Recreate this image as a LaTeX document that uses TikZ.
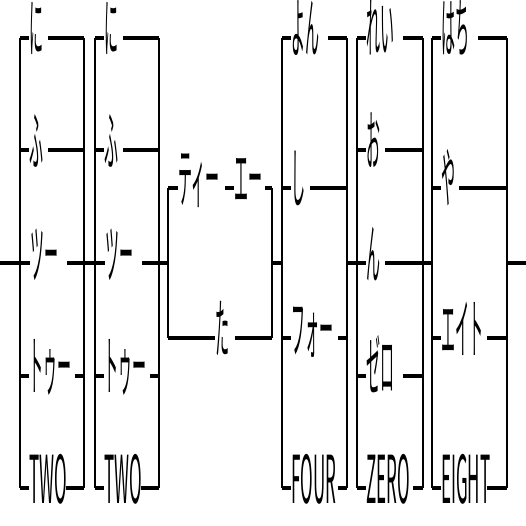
\documentclass[tikz,border=0pt]{standalone}
\usepackage{fontspec}
\usepackage{graphicx}
\newfontfamily\jpfont{Noto Sans CJK JP}
\newcommand\jt[1]{\scalebox{0.7}[3.3]{\jpfont\fontsize{20}{20}\selectfont #1}}
\newcommand\lt[1]{\scalebox{0.85}[3.3]{\jpfont\fontsize{20}{20}\selectfont #1}}
\tikzset{
  hline/.style={line width=4pt},
  vline/.style={line width=1.1pt},
  lbl/.style={inner sep=0pt, anchor=base west}
}
\newcommand\branch[7]{%
  \coordinate (#1-l) at (#2,#4);
  \coordinate (#1-r) at (#3,#4);
  \coordinate (#1-b) at (#6,#4);
  \node[lbl] (#1) at (#5,#4+15) {#7};
  \draw[hline] (#1-l) -- (#1.west |- #1-l);
  \draw[hline] (#1-b) -- (#1-r);
}
\begin{document}
\begin{tikzpicture}[x=1pt,y=-1pt]
\useasboundingbox (0,0) rectangle (526,526);
\fill[white] (0,0) rectangle (526,526);
% main line ends
\coordinate (start) at (0,263);
\coordinate (end) at (526,263);
% group 1
\branch{a1}{20}{84}{38}{29}{48}{\jt{に}}
\branch{a2}{20}{84}{150.5}{29}{48}{\jt{ふ}}
\branch{a3}{20}{84}{263}{30}{67}{\jt{ツー}}
\branch{a4}{20}{84}{375.5}{29}{75}{\jt{トゥー}}
\branch{a5}{20}{84}{488}{29}{66}{\lt{TWO}}
\draw[vline] (a1-l) -- (a5-l);
\draw[vline] (a1-r) -- (a5-r);
% group 2
\branch{b1}{95}{159}{38}{104}{123}{\jt{に}}
\branch{b2}{95}{159}{150.5}{104}{123}{\jt{ふ}}
\branch{b3}{95}{159}{263}{105}{142}{\jt{ツー}}
\branch{b4}{95}{159}{375.5}{104}{150}{\jt{トゥー}}
\branch{b5}{95}{159}{488}{104}{141}{\lt{TWO}}
\draw[vline] (b1-l) -- (b5-l);
\draw[vline] (b1-r) -- (b5-r);
% group 3
\coordinate (c1-l) at (168,188);
\coordinate (c1-r) at (272,188);
\coordinate (c1-m) at (225,188);
\coordinate (c1-b) at (265,188);
\node[lbl] (c1t) at (178,203) {\jt{ティー}};
\node[lbl] (c1u) at (234,203) {\jt{エー}};
\draw[hline] (c1-l) -- (c1t.west |- c1-l);
\draw[hline] (c1-m) -- (c1u.west |- c1-m);
\draw[hline] (c1-b) -- (c1-r);
\branch{c2}{168}{272}{338}{215}{235}{\jt{た}}
\draw[vline] (c1-l) -- (c2-l);
\draw[vline] (c1-r) -- (c2-r);
\coordinate (c-in) at (168,263);
\coordinate (c-out) at (272,263);
% group 4
\branch{d1}{282}{347}{38}{291}{328}{\jt{よん}}
\branch{d2}{282}{347}{188}{291}{310}{\jt{し}}
\branch{d3}{282}{347}{338}{291}{338}{\jt{フォー}}
\branch{d4}{282}{347}{488}{291}{338}{\lt{FOUR}}
\draw[vline] (d1-l) -- (d4-l);
\draw[vline] (d1-r) -- (d4-r);
\coordinate (d-in) at (282,263);
\coordinate (d-out) at (347,263);
% group 5
\branch{e1}{357}{423}{38}{366}{403}{\jt{れい}}
\branch{e2}{357}{423}{150.5}{366}{385}{\jt{お}}
\branch{e3}{357}{423}{263}{366}{385}{\jt{ん}}
\branch{e4}{357}{423}{375.5}{366}{403}{\jt{ゼロ}}
\branch{e5}{357}{423}{488}{366}{413}{\lt{ZERO}}
\draw[vline] (e1-l) -- (e5-l);
\draw[vline] (e1-r) -- (e5-r);
% group 6
\branch{f1}{432}{507}{38}{441}{478}{\jt{はち}}
\branch{f2}{432}{507}{188}{441}{459}{\jt{や}}
\branch{f3}{432}{507}{338}{441}{487}{\jt{エイト}}
\branch{f4}{432}{507}{488}{441}{487}{\lt{EIGHT}}
\draw[vline] (f1-l) -- (f4-l);
\draw[vline] (f1-r) -- (f4-r);
\coordinate (f-in) at (432,263);
\coordinate (f-out) at (507,263);
% main line connectors
\draw[hline] (start) -- (a3-l);
\draw[hline] (a3-r) -- (b3-l);
\draw[hline] (b3-r) -- (c-in);
\draw[hline] (c-out) -- (d-in);
\draw[hline] (d-out) -- (e3-l);
\draw[hline] (e3-r) -- (f-in);
\draw[hline] (f-out) -- (end);
\end{tikzpicture}
\end{document}
